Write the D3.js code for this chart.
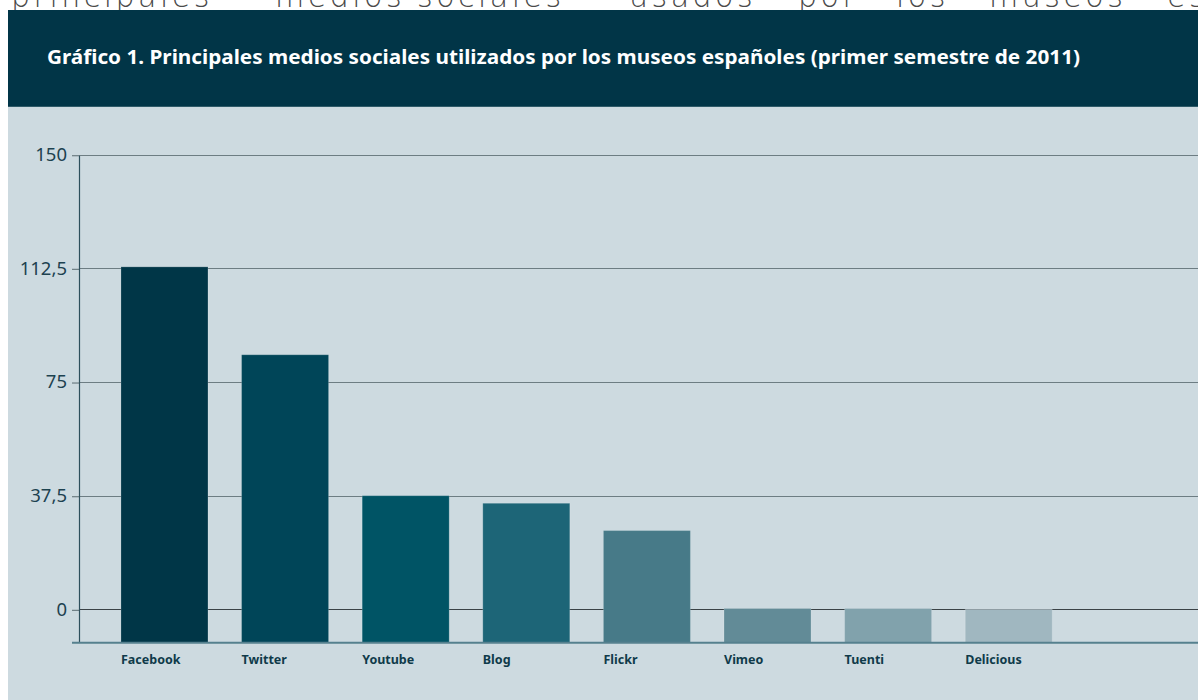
<!DOCTYPE html>
<html>
<head>
<meta charset="utf-8">
<script src="https://cdn.jsdelivr.net/npm/d3@7"></script>
<style>
  html, body { margin: 0; padding: 0; background: #ffffff; overflow: hidden; }
  svg { display: block; }
</style>
</head>
<body>
<svg id="chart" width="1198" height="700"></svg>
<script>
// ---- data ----
const categories = ["Facebook", "Twitter", "Youtube", "Blog", "Flickr", "Vimeo", "Tuenti", "Delicious"];
const values = [113, 84, 37.5, 35, 26, 0.3, 0.3, 0];
const barColors = ["#003647", "#004558", "#005465", "#1d6577", "#477a88", "#628b97", "#81a2ac", "#a0b7c0"];
const yTicks = [0, 37.5, 75, 112.5, 150];
const titleText = "Gráfico 1. Principales medios sociales utilizados por los museos españoles (primer semestre de 2011)";
const topWords = ["principales", "medios", "sociales", "usados", "por", "los", "museos", "españoles"];
const topWordX = [11, 275, 417, 629, 798, 896, 989, 1167];

const svg = d3.select("#chart");

// cut-off running text at the top of the page
topWords.forEach((w, i) => {
  svg.append("text")
    .attr("x", topWordX[i]).attr("y", 7)
    .attr("font-family", "DejaVu Sans, sans-serif")
    .attr("font-weight", 300)
    .attr("font-size", 30)
    .attr("letter-spacing", 3.5)
    .attr("fill", "#4a4a4a")
    .text(w);
});

// header band
svg.append("rect").attr("x", 8).attr("y", 10).attr("width", 1190).attr("height", 96).attr("fill", "#013547");
svg.append("text")
  .attr("x", 47).attr("y", 64)
  .attr("font-family", "Noto Sans, Open Sans, sans-serif")
  .attr("font-weight", 700)
  .attr("font-size", 19)
  .attr("fill", "#ffffff")
  .attr("textLength", 1033).attr("lengthAdjust", "spacingAndGlyphs")
  .text(titleText);

// plot background
svg.append("rect").attr("x", 8).attr("y", 106).attr("width", 1190).attr("height", 594).attr("fill", "#cddae0");
svg.append("line").attr("x1", 8).attr("x2", 1198).attr("y1", 106.5).attr("y2", 106.5).attr("stroke", "#2e5a68").attr("stroke-width", 1);

// scales
const axisX = 79;
const y = d3.scaleLinear().domain([-11, 150]).range([642.7, 154.7]);
const x = d3.scaleBand().domain(categories).range([104.2, 1069]).paddingInner(0.2786).paddingOuter(0.139);

// gridlines
svg.append("g").selectAll("line").data(yTicks).join("line")
  .attr("x1", axisX).attr("x2", 1198)
  .attr("y1", d => Math.round(y(d)) + 0.5).attr("y2", d => Math.round(y(d)) + 0.5)
  .attr("stroke", d => d === 0 ? "#3a4246" : "#6d7d83")
  .attr("stroke-width", 1.2);

// y axis labels + ticks
const yAxis = d3.axisLeft(y).tickValues(yTicks).tickSize(7).tickPadding(5)
  .tickFormat(d => String(d).replace(".", ","));
const gy = svg.append("g").attr("transform", `translate(${axisX},0)`).call(yAxis);
gy.select(".domain").remove();
gy.selectAll(".tick line").attr("stroke", "#6d7d83").attr("stroke-width", 1.2)
  .attr("transform", "translate(0,0.5)");
gy.selectAll(".tick text")
  .attr("font-family", "Noto Sans, Open Sans, sans-serif")
  .attr("font-size", 18.5)
  .attr("fill", "#1d4250");

// bars
svg.append("g").selectAll("rect").data(categories).join("rect")
  .attr("x", d => x(d))
  .attr("width", x.bandwidth())
  .attr("y", (d, i) => y(values[i]))
  .attr("height", (d, i) => y(-11) - y(values[i]))
  .attr("fill", (d, i) => barColors[i])
  .attr("stroke", "rgba(255,255,255,0.18)")
  .attr("stroke-width", 1);

// y axis line
svg.append("line").attr("x1", axisX + 0.5).attr("x2", axisX + 0.5)
  .attr("y1", y(150) + 1).attr("y2", y(-11))
  .attr("stroke", "#2d4f5c").attr("stroke-width", 1.2);

// x axis baseline
svg.append("line").attr("x1", 72).attr("x2", 1198)
  .attr("y1", y(-11)).attr("y2", y(-11))
  .attr("stroke", "#55808e").attr("stroke-width", 2);

// x labels
const xAxis = d3.axisBottom(x).tickSize(0).tickPadding(0);
const gx = svg.append("g").attr("transform", `translate(0,${y(-11)})`).call(xAxis);
gx.select(".domain").remove();
gx.selectAll(".tick").attr("transform", d => `translate(${x(d)},0)`);
gx.selectAll(".tick text")
  .attr("text-anchor", "start")
  .attr("y", 21).attr("dy", 0)
  .attr("font-family", "Noto Sans, Open Sans, sans-serif")
  .attr("font-weight", 700)
  .attr("font-size", 12.5)
  .attr("fill", "#0f3a4a");
</script>
</body>
</html>
